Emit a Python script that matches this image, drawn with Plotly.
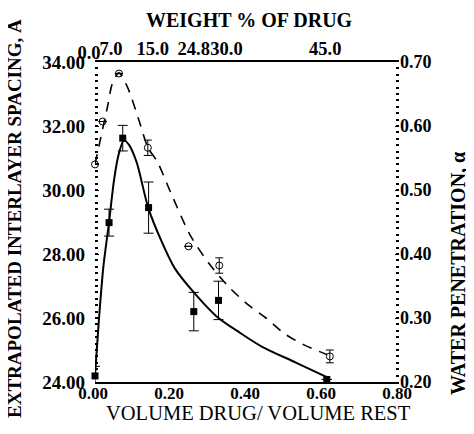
import plotly.graph_objects as go

# ---------------- data ----------------
# filled squares: extrapolated interlayer spacing (Å) vs volume ratio
ratio_sq = [0.0, 0.037, 0.073, 0.141, 0.26, 0.325, 0.61]
spacing_sq = [24.19, 28.98, 31.62, 29.45, 26.2, 26.55, 24.08]
spacing_err = [0.3, 0.42, 0.4, 0.8, 0.6, 0.6, 0.0]

# open circles: water penetration alpha vs volume ratio
ratio_circ = [0.0, 0.02, 0.063, 0.139, 0.246, 0.327, 0.618]
alpha_circ = [0.54, 0.607, 0.682, 0.566, 0.412, 0.382, 0.24]
alpha_err = [0.0, 0.0, 0.0, 0.012, 0.0, 0.012, 0.01]

# fitted solid curve (spacing)
fit_sp_x = [0.0, 0.01, 0.022, 0.037, 0.05, 0.062, 0.076, 0.09, 0.11, 0.14,
            0.175, 0.21, 0.26, 0.32, 0.38, 0.44, 0.53, 0.61]
fit_sp_y = [24.2, 25.9, 27.6, 29.0, 30.3, 31.1, 31.55, 31.4, 30.85, 29.45,
            28.4, 27.55, 26.8, 26.05, 25.55, 25.1, 24.6, 24.15]

# fitted dashed curve (alpha)
fit_al_x = [0.0, 0.024, 0.034, 0.045, 0.063, 0.086, 0.115, 0.139, 0.165,
            0.2, 0.25, 0.3, 0.35, 0.4, 0.45, 0.5, 0.55, 0.61]
fit_al_y = [0.54, 0.606, 0.633, 0.665, 0.683, 0.66, 0.61, 0.567, 0.543,
            0.495, 0.43, 0.385, 0.35, 0.322, 0.3, 0.275, 0.258, 0.243]

# axes ticks
x_ticks = [0.0, 0.2, 0.4, 0.6, 0.8]
x_ticktext = ["0.00", "0.20", "0.40", "0.60", "0.80"]
y_ticks = [24, 26, 28, 30, 32, 34]
y_ticktext = ["24.00", "26.00", "28.00", "30.00", "32.00", "34.00"]
y2_ticks = [0.2, 0.3, 0.4, 0.5, 0.6, 0.7]
y2_ticktext = ["0.20", "0.30", "0.40", "0.50", "0.60", "0.70"]
top_first_ratio = [0.0]
top_first_label = ["0.0"]
top_tick_ratio = [0.042, 0.152, 0.26, 0.346, 0.606]
top_tick_labels = ["7.0", "15.0", "24.8", "30.0", "45.0"]

# ---------------- layout geometry ----------------
W, H = 474, 434
OFF = 8  # page offset of the plot div
L, R, T, B = 87, 83, 54, 60
PW, PH = W - L - R, H - T - B

def px(x):  # page pixel -> paper
    return (x - OFF - L) / PW

def py(y):
    return (H - B - (y - OFF)) / PH

SERIF = "Liberation Serif, Times New Roman, serif"
def bold(size):
    return dict(family=SERIF, size=size, color="black", weight="bold")

fig = go.Figure()

fig.add_trace(go.Scatter(
    x=fit_al_x, y=fit_al_y, yaxis="y2", mode="lines",
    line=dict(color="black", width=1.6, dash="10px,8px", shape="spline", smoothing=0.8),
    hoverinfo="skip", showlegend=False))
fig.add_trace(go.Scatter(
    x=fit_sp_x, y=fit_sp_y, mode="lines",
    line=dict(color="black", width=2, shape="spline", smoothing=0.8),
    hoverinfo="skip", showlegend=False))
fig.add_trace(go.Scatter(
    x=ratio_sq, y=spacing_sq, mode="markers",
    marker=dict(symbol="square", size=7, color="black"),
    error_y=dict(type="data", array=spacing_err, color="black", thickness=1, width=5),
    showlegend=False, cliponaxis=False))
fig.add_trace(go.Scatter(
    x=ratio_circ, y=alpha_circ, yaxis="y2", mode="markers",
    marker=dict(symbol="circle-open", size=7, color="black", line=dict(width=1)),
    error_y=dict(type="data", array=alpha_err, color="black", thickness=1, width=4),
    showlegend=False, cliponaxis=False))
# invisible traces to activate the top axes
fig.add_trace(go.Scatter(x=[0, 0.8], y=[24, 24], xaxis="x2", mode="markers",
                         marker=dict(opacity=0), hoverinfo="skip", showlegend=False))
fig.add_trace(go.Scatter(x=[0, 0.8], y=[24, 24], xaxis="x3", mode="markers",
                         marker=dict(opacity=0), hoverinfo="skip", showlegend=False))

fig.update_layout(
    width=W, height=H,
    margin=dict(l=L, r=R, t=T, b=B),
    paper_bgcolor="white", plot_bgcolor="white",
    xaxis=dict(range=[0, 0.8], tickvals=x_ticks, ticktext=x_ticktext,
               showgrid=False, zeroline=False, showline=True, linecolor="black",
               linewidth=2, ticks="", tickfont=bold(17), tickangle=0,
               automargin=False, ticklabelstandoff=-5, ticklabelshift=-2),
    xaxis2=dict(range=[0, 0.8], overlaying="x", side="top",
                tickvals=top_tick_ratio, ticktext=top_tick_labels,
                showgrid=False, zeroline=False, showline=True, linecolor="black",
                linewidth=2, ticks="", tickfont=bold(18.5), tickangle=0,
                automargin=False, ticklabelstandoff=-2),
    xaxis3=dict(range=[0, 0.8], overlaying="x", side="top",
                tickvals=top_first_ratio, ticktext=top_first_label,
                showgrid=False, zeroline=False, showline=False,
                ticks="", tickfont=bold(18.5), tickangle=0,
                automargin=False, ticklabelstandoff=-2, ticklabelshift=-6),
    yaxis=dict(range=[24, 34], tickvals=y_ticks, ticktext=y_ticktext,
               showgrid=False, zeroline=False, showline=False,
               ticks="inside", ticklen=4, tickwidth=1, tickcolor="black",
               minor=dict(ticks="inside", dtick=0.2, ticklen=3, tickwidth=1.5,
                          tickcolor="black", showgrid=False),
               tickfont=bold(19), automargin=False, ticklabelstandoff=9),
    yaxis2=dict(range=[0.2, 0.7], overlaying="y", side="right",
                tickvals=y2_ticks, ticktext=y2_ticktext,
                showgrid=False, zeroline=False, showline=False,
                ticks="inside", ticklen=4, tickwidth=1, tickcolor="black",
                minor=dict(ticks="inside", dtick=0.01, ticklen=3, tickwidth=1.5,
                           tickcolor="black", showgrid=False),
                tickfont=bold(18), automargin=False, ticklabelstandoff=0),
    annotations=[
        dict(text="WEIGHT % OF DRUG", xref="paper", yref="paper",
             x=px(250), y=py(20), xanchor="center", yanchor="middle", showarrow=False,
             font=bold(20)),
        dict(text="VOLUME DRUG/ VOLUME REST", xref="paper", yref="paper",
             x=px(258), y=py(413), xanchor="center", yanchor="middle", showarrow=False,
             font=dict(family=SERIF, size=20.5, color="black")),
        dict(text="EXTRAPOLATED INTERLAYER SPACING, Å", xref="paper", yref="paper",
             x=px(14), y=py(219), xanchor="center", yanchor="middle", showarrow=False,
             textangle=-90, font=bold(19)),
        dict(text="WATER PENETRATION, α", xref="paper", yref="paper",
             x=px(458), y=py(274), xanchor="center", yanchor="middle", showarrow=False,
             textangle=-90, font=bold(20)),
    ],
)

fig.write_html("out.html")
